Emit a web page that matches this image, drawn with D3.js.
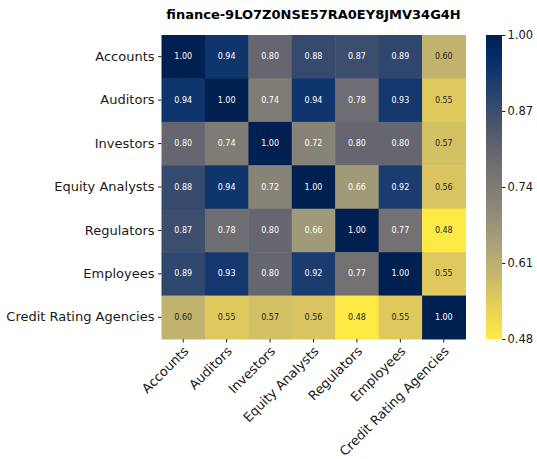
<!DOCTYPE html>
<html><head><meta charset="utf-8">
<script src="https://cdn.jsdelivr.net/npm/d3@7"></script>
<style>body{margin:0;background:#fff;} text{font-family:"DejaVu Sans",sans-serif;}</style>
</head><body><svg id="c" width="537" height="459"></svg>
<script>
const title = "finance-9LO7Z0NSE57RA0EY8JMV34G4H";
const categories = ["Accounts","Auditors","Investors","Equity Analysts","Regulators","Employees","Credit Rating Agencies"];
const rowAccounts = [1.00,0.94,0.80,0.88,0.87,0.89,0.60];
const rowAuditors = [0.94,1.00,0.74,0.94,0.78,0.93,0.55];
const rowInvestors = [0.80,0.74,1.00,0.72,0.80,0.80,0.57];
const rowEquity = [0.88,0.94,0.72,1.00,0.66,0.92,0.56];
const rowRegulators = [0.87,0.78,0.80,0.66,1.00,0.77,0.48];
const rowEmployees = [0.89,0.93,0.80,0.92,0.77,1.00,0.55];
const rowCRA = [0.60,0.55,0.57,0.56,0.48,0.55,1.00];
const matrix = [rowAccounts,rowAuditors,rowInvestors,rowEquity,rowRegulators,rowEmployees,rowCRA];
const cbTicks = [0.48,0.61,0.74,0.87,1.00];
const vmin = 0.48, vmax = 1.00;

const svg = d3.select("#c");
const L = 161.5, T = 35, W = 304, H = 304;
const x = d3.scaleBand().domain(categories).range([L, L+W]);
const y = d3.scaleBand().domain(categories).range([T, T+H]);
const color = v => d3.interpolateCividis(1 - (v - vmin)/(vmax - vmin));

const cells = [];
matrix.forEach((row,i)=>row.forEach((v,j)=>cells.push({r:categories[i],c:categories[j],v})));

svg.append("g").selectAll("rect").data(cells).join("rect")
  .attr("x",d=>x(d.c)).attr("y",d=>y(d.r))
  .attr("width",x.bandwidth()+0.5).attr("height",y.bandwidth()+0.5)
  .attr("fill",d=>color(d.v));

function lum(c){
  const rgb = d3.rgb(c);
  const f = u=>{u/=255; return u<=0.03928?u/12.92:Math.pow((u+0.055)/1.055,2.4);};
  return 0.2126*f(rgb.r)+0.7152*f(rgb.g)+0.0722*f(rgb.b);
}
svg.append("g").selectAll("text").data(cells).join("text")
  .attr("x",d=>x(d.c)+x.bandwidth()/2).attr("y",d=>y(d.r)+y.bandwidth()/2)
  .attr("text-anchor","middle").attr("dominant-baseline","central")
  .style("font-size","8px")
  .attr("fill",d=>lum(color(d.v))>0.408?"#262626":"#ffffff")
  .text(d=>d.v.toFixed(2));

// axes
const yAxis = d3.axisLeft(y).tickSize(3.5).tickPadding(3.5);
const gy = svg.append("g").attr("transform",`translate(${L},0)`).call(yAxis);
gy.select(".domain").remove();
gy.selectAll("text").style("font-size","13px").attr("fill","#1a1a1a");
gy.selectAll("line").attr("stroke","#262626");

const xAxis = d3.axisBottom(x).tickSize(3.5).tickPadding(3.5);
const gx = svg.append("g").attr("transform",`translate(0,${T+H})`).call(xAxis);
gx.select(".domain").remove();
gx.selectAll("line").attr("stroke","#262626");
gx.selectAll("text").style("font-size","13px").attr("fill","#1a1a1a")
  .attr("text-anchor","end").attr("dy","0.55em")
  .attr("transform","translate(1,8) rotate(-45)").attr("y",0).attr("x",0);

// title
svg.append("text").attr("x",313.5).attr("y",19).attr("text-anchor","middle")
  .style("font-size","13px").style("font-weight","bold").attr("fill","#000").text(title);

// colorbar
const CBX = 486, CBW = 16;
const cy = d3.scaleLinear().domain([vmin,vmax]).range([T+H, T]);
const defs = svg.append("defs");
const grad = defs.append("linearGradient").attr("id","g").attr("x1",0).attr("y1",1).attr("x2",0).attr("y2",0);
d3.range(0,1.0001,0.05).forEach(t=>grad.append("stop").attr("offset",t).attr("stop-color",color(vmin+t*(vmax-vmin))));
svg.append("rect").attr("x",CBX).attr("y",T).attr("width",CBW).attr("height",H).attr("fill","url(#g)");
const cAxis = d3.axisRight(cy).tickValues(cbTicks).tickFormat(d3.format(".2f")).tickSize(3.5).tickPadding(2);
const gc = svg.append("g").attr("transform",`translate(${CBX+CBW},0)`).call(cAxis);
gc.select(".domain").remove();
gc.selectAll("text").style("font-size","11.5px").attr("fill","#1a1a1a");
gc.selectAll("line").attr("stroke","#262626");
</script></body></html>
